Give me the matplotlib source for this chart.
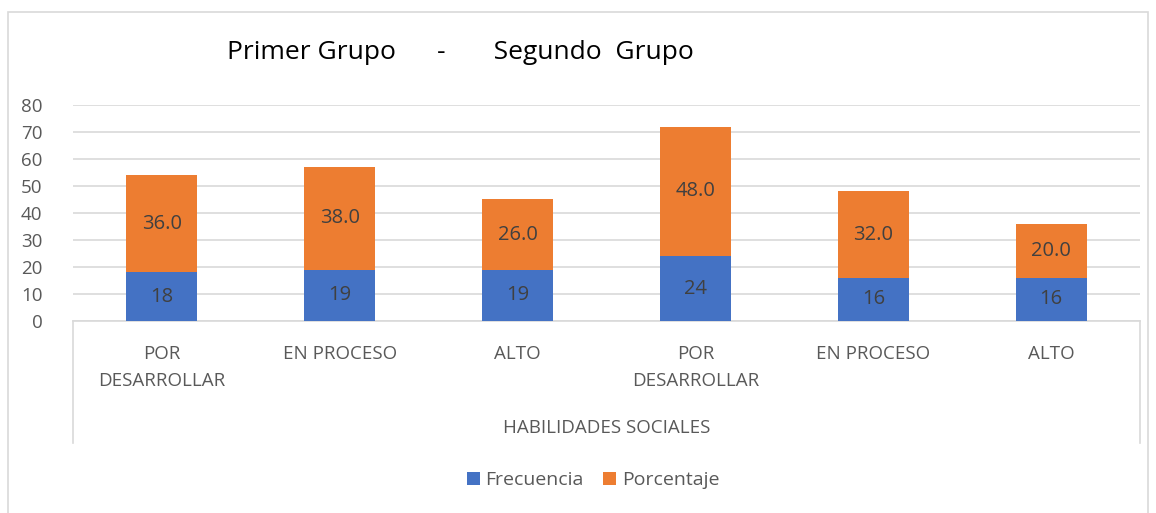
import matplotlib.pyplot as plt
from matplotlib.patches import Rectangle

# data
categorias = ["POR\nDESARROLLAR", "EN PROCESO", "ALTO", "POR\nDESARROLLAR", "EN PROCESO", "ALTO"]
frecuencia = [18, 19, 19, 24, 16, 16]
porcentaje = [36.0, 38.0, 26.0, 48.0, 32.0, 20.0]
yticks = [0, 10, 20, 30, 40, 50, 60, 70, 80]

azul = "#4472C4"
naranja = "#ED7D31"
gris = "#595959"

plt.rcParams['font.family'] = ['Open Sans', 'DejaVu Sans']

fig = plt.figure(figsize=(11.56, 5.13), dpi=100)
ax = fig.add_axes([0.0631, 0.3743, 0.9231, 0.4211])

x = range(len(categorias))
b1 = ax.bar(x, frecuencia, width=0.4, color=azul, label="Frecuencia", zorder=3)
b2 = ax.bar(x, porcentaje, width=0.4, bottom=frecuencia, color=naranja, label="Porcentaje", zorder=3)

for i in x:
    ax.text(i, frecuencia[i] / 2, str(frecuencia[i]), ha="center", va="center",
            fontsize=14.5, color="#404040", zorder=4)
    ax.text(i, frecuencia[i] + porcentaje[i] / 2, "%.1f" % porcentaje[i], ha="center", va="center",
            fontsize=14.5, color="#404040", zorder=4)

ax.set_xlim(-0.5, len(categorias) - 0.5)
ax.set_ylim(0, 80)
ax.set_yticks(yticks)
ax.set_yticklabels([str(v) for v in yticks], fontsize=13.5, color=gris)
ax.set_xticks(list(x))
ax.set_xticklabels(categorias, fontsize=13.5, color=gris, linespacing=1.7)
ax.tick_params(axis="y", length=0, pad=22)
ax.tick_params(axis="x", length=0, pad=17)
ax.yaxis.grid(True, color="#D9D9D9", linewidth=1.2, zorder=0)
for s in ["top", "right", "left"]:
    ax.spines[s].set_visible(False)
ax.spines["bottom"].set_color("#D9D9D9")
ax.spines["bottom"].set_linewidth(1.2)

# category box lines below axis
for xa in [0, 1]:
    ax.plot([xa, xa], [0, -0.565], transform=ax.transAxes, color="#D9D9D9",
            linewidth=1.2, clip_on=False)
ax.text(0.5, -0.497, "HABILIDADES SOCIALES", transform=ax.transAxes, ha="center",
        va="center", fontsize=13.5, color=gris)

fig.text(0.398, 0.898, "Primer Grupo      -       Segundo  Grupo", ha="center", va="center",
         fontsize=19, color="black")

fig.legend(handles=[b1, b2], loc="center", bbox_to_anchor=(0.513, 0.064), ncol=2,
           frameon=False, fontsize=14, handlelength=0.65, handleheight=0.65,
           handletextpad=0.3, columnspacing=1.0, labelcolor=gris)

fig.patches.append(Rectangle((8 / 1156, -0.01), 1140 / 1156, 1 - 12 / 513 + 0.01,
                             transform=fig.transFigure, fill=False, edgecolor="#D9D9D9",
                             linewidth=1.2))

fig.savefig("out.png", dpi=100)
